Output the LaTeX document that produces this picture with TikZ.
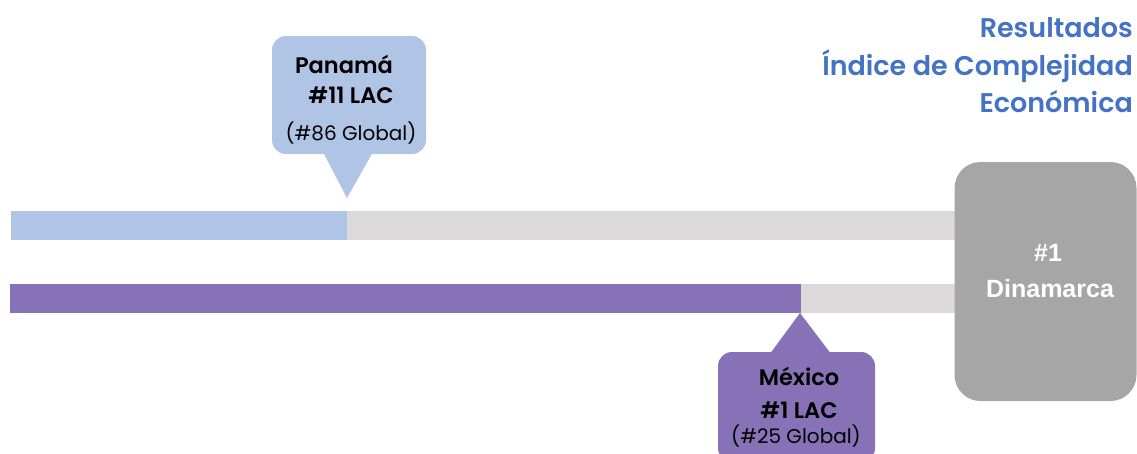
\documentclass[tikz,border=0pt]{standalone}
\usepackage{fontspec}
\setmainfont{Poppins}
\newfontfamily\titlefont{Poppins SemiBold}
\newfontfamily\dinfont{Liberation Sans}
\definecolor{lblue}{HTML}{B0C4E6}
\definecolor{purp}{HTML}{8872B7}
\definecolor{barbg}{HTML}{DBD9DA}
\definecolor{boxgray}{HTML}{A6A6A6}
\definecolor{titleblue}{HTML}{4472C4}
\tikzset{
  bartrack/.style={fill=barbg},
  callbox/.style={rounded corners=14pt, inner sep=0pt},
  bigtxt/.style={font=\titlefont\fontsize{22.5}{26}\selectfont, anchor=base, inner sep=0pt},
  smalltxt/.style={font=\fontsize{20}{24}\selectfont, anchor=base, inner sep=0pt},
  titletxt/.style={font=\titlefont\fontsize{27}{31}\selectfont, text=titleblue, anchor=base east, inner sep=0pt},
  dintxt/.style={font=\dinfont\fontsize{25}{29}\selectfont\bfseries, text=white, anchor=base, inner sep=0pt},
}
\begin{document}
\begin{tikzpicture}[x=1pt,y=-1pt]
\useasboundingbox (0,0) rectangle (1137,453);
\clip (0,0) rectangle (1137,453);
% bars
\fill[bartrack] (11,211) rectangle (985,240);
\fill[lblue] (11,211) rectangle (347,240);
\fill[bartrack] (10,284) rectangle (985,313);
\fill[purp] (10,284) rectangle (801,313);
% Dinamarca box
\node[fill=boxgray, rounded corners=26pt, minimum width=182pt, minimum height=239pt, inner sep=0pt] (din) at (1045.5,281.5) {};
\node[dintxt] (din1) at (1048,261) {\#1};
\node[dintxt] (din2) at (1050,297) {Dinamarca};
% Panama callout
\node[callbox, fill=lblue, minimum width=154pt, minimum height=118pt] (pan) at (349,95) {};
\coordinate (pantip) at (347,198);
\fill[lblue] ([xshift=-27pt,yshift=4pt]pan.south) -- (pantip) -- ([xshift=25pt,yshift=4pt]pan.south) -- cycle;
\node[bigtxt] (pan1) at (344,73) {Panamá};
\node[bigtxt] (pan2) at (351,103) {\#11 LAC};
\node[smalltxt] (pan3) at (351,140) {(\#86 Global)};
% Mexico callout
\node[callbox, fill=purp, minimum width=157pt, minimum height=110pt] (mex) at (796.5,407) {};
\coordinate (mextip) at (800,313);
\fill[purp] ([xshift=-28pt,yshift=-4pt]mex.north) -- (mextip) -- ([xshift=36pt,yshift=-4pt]mex.north) -- cycle;
\node[bigtxt] (mex1) at (799,385) {México};
\node[bigtxt] (mex2) at (799,418) {\#1 LAC};
\node[smalltxt] (mex3) at (796,443) {(\#25 Global)};
% title
\node[titletxt] (t1) at (1133,37) {Resultados};
\node[titletxt] (t2) at (1133,75) {Índice de Complejidad};
\node[titletxt] (t3) at (1133,112) {Económica};
\end{tikzpicture}
\end{document}
